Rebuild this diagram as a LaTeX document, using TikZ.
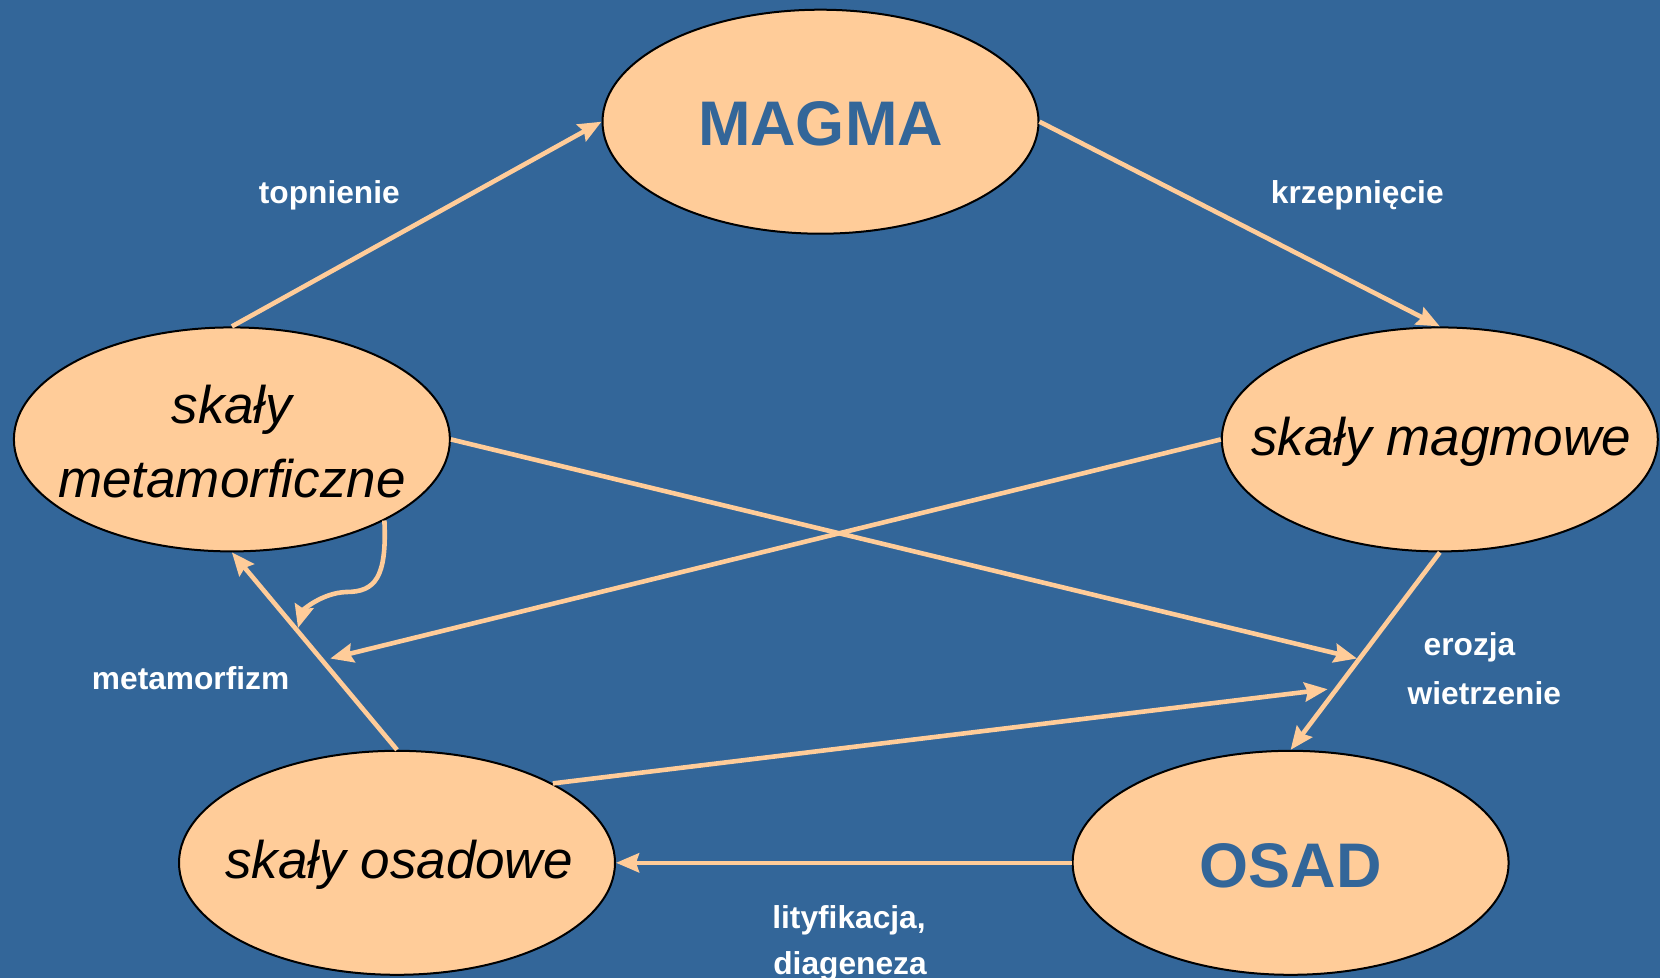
\documentclass[tikz,border=0pt]{standalone}
\usepackage{fontspec}
\setmainfont{Liberation Sans}
\usetikzlibrary{shapes.geometric,arrows.meta}
\definecolor{bg}{HTML}{336699}
\definecolor{peach}{HTML}{FFCC99}
\begin{document}
\begin{tikzpicture}[x=1pt,y=-1pt,
  rock/.style={ellipse,draw=black,line width=2pt,fill=peach,minimum width=436pt,minimum height=224pt,inner sep=0pt},
  rtext/.style={align=center,inner sep=0pt,font=\fontsize{53}{74}\selectfont\itshape},
  big/.style={font=\fontsize{63}{70}\selectfont\bfseries,text=bg,inner sep=0pt},
  lbl/.style={text=white,font=\fontsize{31.7}{45.5}\selectfont\bfseries,inner sep=0pt},
  conn/.style={draw=peach,line width=4.6pt,-{Stealth[inset=3pt,length=23pt,width=19pt]}}]
\fill[bg] (0,0) rectangle (1660,978);
\useasboundingbox (0,0) rectangle (1660,978);
\node[rock] (magma) at (820.5,121.7) {};
\node[big] (magmat) at (820.5,124) {MAGMA};
\node[rock] (meta) at (231.9,439.4) {};
\node[rtext] (metat) at (231.9,442) {skały\\metamorficzne};
\node[rock] (magmowe) at (1439.8,439.4) {};
\node[rtext] (magmowet) at (1441,442) {skały magmowe};
\node[rock] (osadowe) at (397,862.8) {};
\node[rtext] (osadowet) at (399,865) {skały osadowe};
\node[rock] (osad) at (1290.6,862.8) {};
\node[big] (osadt) at (1290.6,866) {OSAD};
\coordinate (c1) at (1357,658.5);
\coordinate (c2) at (330.3,658.5);
\coordinate (c3) at (1327.6,689.2);
\coordinate (c4) at (298,628);
\draw[conn] (meta.north) -- (magma.west);
\draw[conn] (magma.east) -- (magmowe.north);
\draw[conn] (meta.east) -- (c1);
\draw[conn] (magmowe.west) -- (c2);
\draw[conn] (magmowe.south) -- (osad.north);
\draw[conn] (osadowe.27) -- (c3);
\draw[conn] (osad.west) -- (osadowe.east);
\draw[conn] (osadowe.north) -- (meta.south);
\draw[conn] (meta.-28) .. controls (387,578) and (375,592) .. (346,592) .. controls (322,593) and (303,610) .. (c4);
\node[lbl] (t1) at (329.3,195) {topnienie};
\node[lbl] (t2) at (1357.3,195) {krzepnięcie};
\node[lbl] (t3) at (190.6,678) {metamorfizm};
\node[lbl] (t4) at (1469.5,647) {erozja};
\node[lbl] (t5) at (1484.3,693) {wietrzenie};
\node[lbl] (t6) at (849,920.5) {lityfikacja,};
\node[lbl] (t7) at (850,966) {diageneza};
\end{tikzpicture}
\end{document}
